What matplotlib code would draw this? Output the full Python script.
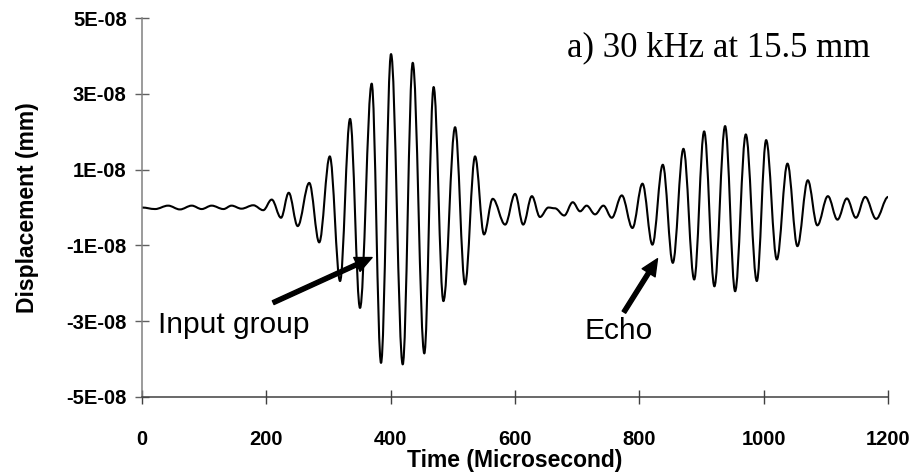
import numpy as np
import matplotlib
matplotlib.use('Agg')
import matplotlib.pyplot as plt
from matplotlib.path import Path
from matplotlib.patches import PathPatch

# extrema of the displacement trace
# time in microseconds, displacement in units of 1E-08 mm
t_ext = [0, 21, 42, 61, 80, 96, 112, 131, 144, 160, 179, 195,
         208.6, 223.6, 236, 250.4, 269, 285, 302, 318.5, 334.6, 350.6,
         369.4, 384.4, 400.5, 419.3, 435.4, 454, 469, 484.7, 503.5, 519.5,
         535.6, 550, 564, 584, 600, 613, 627, 640, 653.6, 664, 679, 692.7,
         704.5, 715, 728.6, 742, 755.5, 771.6, 788.7, 804.8, 820.8, 837.5,
         853.6, 870.7, 888, 904, 920.5, 937.7, 953.8, 971, 988.7, 1003.7,
         1020.9, 1038, 1054, 1070.7, 1086, 1103, 1118.4, 1133.5, 1148, 1163,
         1180.6, 1200]
v_ext = [0.0, -0.04, 0.05, -0.05, 0.05, -0.04, 0.05, -0.04, 0.05, -0.03, 0.06, -0.07,
         0.21, -0.27, 0.39, -0.49, 0.65, -0.92, 1.35, -1.94, 2.34, -2.65,
         3.27, -4.10, 4.05, -4.14, 3.82, -3.85, 3.18, -2.47, 2.12, -2.03,
         1.35, -0.71, 0.23, -0.45, 0.36, -0.45, 0.30, -0.25, 0.0, -0.02, -0.21, 0.14,
         -0.10, 0.05, -0.18, 0.05, -0.27, 0.32, -0.54, 0.63, -0.98, 1.13,
         -1.46, 1.55, -1.90, 2.01, -2.08, 2.15, -2.21, 1.93, -1.94, 1.78,
         -1.37, 1.16, -1.02, 0.72, -0.47, 0.30, -0.32, 0.24, -0.27, 0.28,
         -0.30, 0.28]

x_ticks = [0, 200, 400, 600, 800, 1000, 1200]
y_ticks = [-5e-8, -3e-8, -1e-8, 1e-8, 3e-8, 5e-8]
y_ticklabels = ['-5E-08', '-3E-08', '-1E-08', '1E-08', '3E-08', '5E-08']

title_text = 'a) 30 kHz at 15.5 mm'
x_label = 'Time (Microsecond)'
y_label = 'Displacement (mm)'

sans = ['Liberation Sans', 'DejaVu Sans']
serif = ['Liberation Serif', 'DejaVu Serif']

fig = plt.figure(figsize=(9.19, 4.76), dpi=100)
ax = fig.add_axes([0.1545, 0.166, 0.812, 0.796])

# smooth trace: one cubic bezier per half wave, flat tangents at each extremum
t = np.array(t_ext, dtype=float)
v = np.array(v_ext, dtype=float) * 1e-8
k = 0.363
verts = [(t[0], v[0])]
codes = [Path.MOVETO]
for i in range(len(t) - 1):
    dt = t[i + 1] - t[i]
    verts += [(t[i] + k * dt, v[i]), (t[i + 1] - k * dt, v[i + 1]), (t[i + 1], v[i + 1])]
    codes += [Path.CURVE4] * 3
ax.add_patch(PathPatch(Path(verts, codes), fill=False, edgecolor='black', lw=1.5,
                       capstyle='round', joinstyle='round'))

ax.set_xlim(0, 1200)
ax.set_ylim(-5e-8, 5e-8)
ax.set_xticks(x_ticks)
ax.set_yticks(y_ticks)
ax.set_yticklabels(y_ticklabels)

for side in ['top', 'right']:
    ax.spines[side].set_visible(False)
ax.spines['left'].set_color('#808080')
ax.spines['bottom'].set_color('#404040')
ax.spines['left'].set_linewidth(1.1)
ax.spines['bottom'].set_linewidth(1.1)
ax.tick_params(axis='both', direction='inout', length=10, width=1.0)
ax.tick_params(axis='y', colors='#606060', labelcolor='black', pad=6)
ax.tick_params(axis='x', colors='#404040', labelcolor='black', pad=19)
for lab in ax.get_xticklabels() + ax.get_yticklabels():
    lab.set_fontfamily(sans)
    lab.set_fontweight('bold')
    lab.set_fontsize(14.5)

ax.set_xlabel(x_label, fontsize=16.5, fontweight='bold', family=sans, labelpad=0)
ax.set_ylabel(y_label, fontsize=16.5, fontweight='bold', family=sans, labelpad=20)

ax.text(683, 4.0e-8, title_text, fontsize=25, family=serif, ha='left', va='baseline')
ax.text(26, -3.3e-8, 'Input group', fontsize=21.5, family=sans, ha='left', va='baseline')
ax.text(712, -3.48e-8, 'Echo', fontsize=21.5, family=sans, ha='left', va='baseline')

arrow = dict(facecolor='black', edgecolor='black', width=3, headwidth=11, headlength=12, shrink=0)
ax.annotate('', xy=(370, -1.32e-8), xytext=(211, -2.51e-8), arrowprops=arrow)
ax.annotate('', xy=(829, -1.35e-8), xytext=(775, -2.76e-8), arrowprops=arrow)

fig.savefig('out.png', dpi=100)
